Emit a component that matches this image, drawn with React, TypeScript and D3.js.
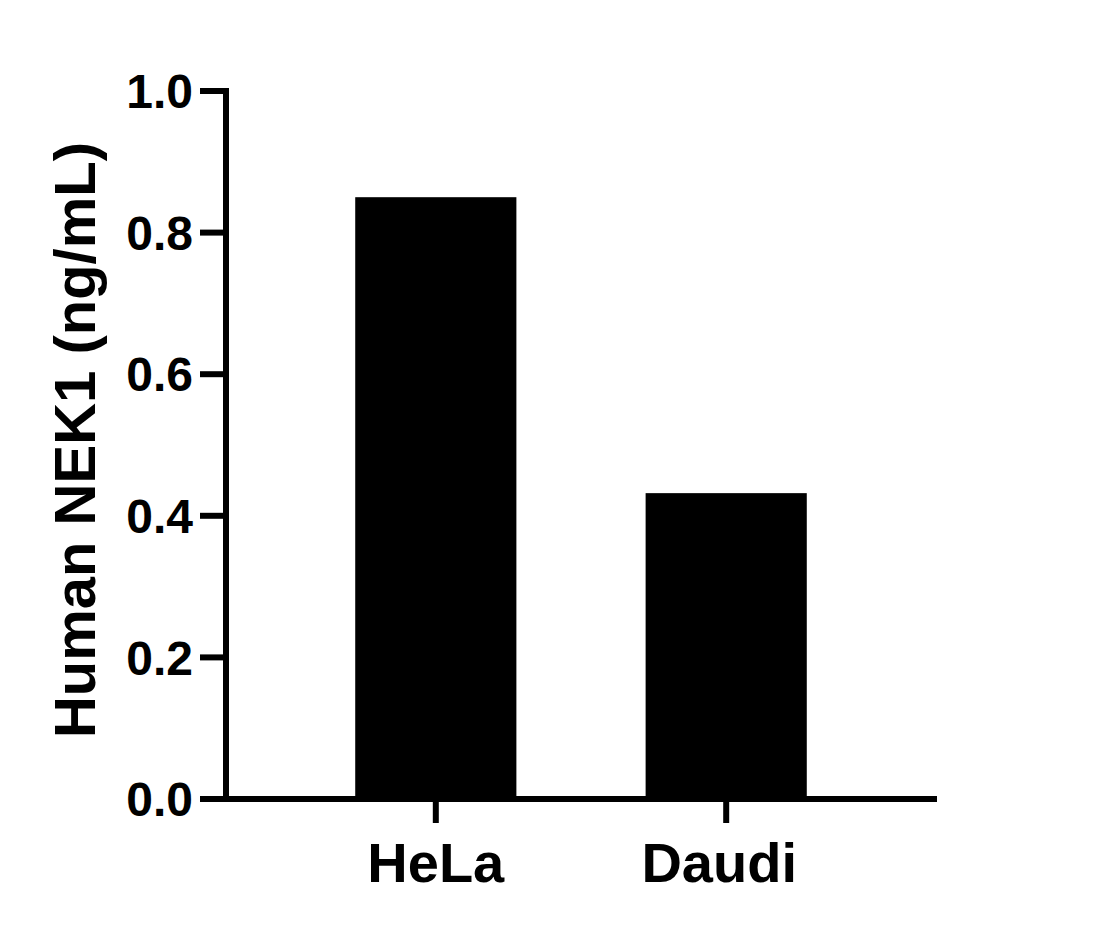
import React from "react";
import * as d3 from "d3";

const categories = ["HeLa", "Daudi"];
const values = [0.85, 0.432];
const yTicks = [0, 0.2, 0.4, 0.6, 0.8, 1.0];
const yTitle = "Human NEK1 (ng/mL)";

const W = 1115;
const H = 934;
const FONT = "'Liberation Sans', Arial, Helvetica, sans-serif";

export default function App() {
  const x = d3.scaleBand<string>().domain(categories).range([226, 936]).paddingInner(0.445).paddingOuter(0.445);
  const y = d3.scaleLinear().domain([0, 1]).range([799, 91]);
  const lw = 6;
  const y0 = y(0);
  return (
    <svg width={W} height={H} style={{ position: "absolute", left: 0, top: 0, background: "#fff" }}>
      <rect x={0} y={0} width={W} height={H} fill="#fff" />
      {categories.map((c, i) => (
        <rect key={c} x={x(c)!} y={y(values[i])} width={x.bandwidth()} height={y0 - y(values[i])} fill="#000" />
      ))}
      {/* y axis */}
      <line x1={226} x2={226} y1={y(1) - lw / 2} y2={y0} stroke="#000" strokeWidth={lw} />
      {yTicks.map((t) => (
        <g key={t}>
          <line x1={200} x2={226} y1={y(t)} y2={y(t)} stroke="#000" strokeWidth={lw} />
          <text x={193} y={y(t)} dy="0.36em" textAnchor="end" fontFamily={FONT} fontWeight="bold" fontSize={48} fill="#000">
            {d3.format(".1f")(t)}
          </text>
        </g>
      ))}
      {/* x axis */}
      <line x1={200} x2={937} y1={y0} y2={y0} stroke="#000" strokeWidth={lw} />
      {categories.map((c, i) => {
        const cx = x(c)! + x.bandwidth() / 2;
        const shift = i === 1 ? -7 : 0;
        return (
          <g key={c}>
            <line x1={cx} x2={cx} y1={y0} y2={823} stroke="#000" strokeWidth={lw} />
            <text x={cx + shift} y={882} textAnchor="middle" fontFamily={FONT} fontWeight="bold" fontSize={56} fill="#000">
              {c}
            </text>
          </g>
        );
      })}
      <text
        transform={`translate(95,440) rotate(-90)`}
        textAnchor="middle"
        fontFamily={FONT}
        fontWeight="bold"
        fontSize={58}
        fill="#000"
      >
        {yTitle}
      </text>
    </svg>
  );
}
